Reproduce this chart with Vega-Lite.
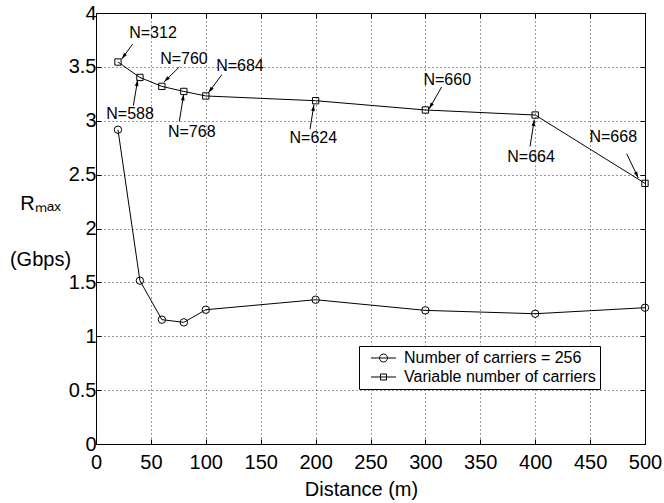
{
  "$schema": "https://vega.github.io/schema/vega-lite/v6.json",
  "width": 549,
  "height": 431,
  "autosize": {"type": "none"},
  "padding": {"left": 96, "top": 13, "right": 19, "bottom": 59},
  "config": {
    "view": {"stroke": "black", "strokeWidth": 1},
    "font": "Liberation Sans",
    "axis": {"labelColor": "black", "titleColor": "black", "labelFont": "Liberation Sans", "titleFont": "Liberation Sans", "titleFontWeight": "normal"}
  },
  "datasets": {
    "series": [
      {"series": "Number of carriers = 256", "distance": 20, "rmax": 2.917},
      {"series": "Number of carriers = 256", "distance": 40, "rmax": 1.516},
      {"series": "Number of carriers = 256", "distance": 60, "rmax": 1.154},
      {"series": "Number of carriers = 256", "distance": 80, "rmax": 1.129},
      {"series": "Number of carriers = 256", "distance": 100, "rmax": 1.246},
      {"series": "Number of carriers = 256", "distance": 200, "rmax": 1.339},
      {"series": "Number of carriers = 256", "distance": 300, "rmax": 1.240},
      {"series": "Number of carriers = 256", "distance": 400, "rmax": 1.209},
      {"series": "Number of carriers = 256", "distance": 500, "rmax": 1.265},
      {"series": "Variable number of carriers", "distance": 20, "rmax": 3.545},
      {"series": "Variable number of carriers", "distance": 40, "rmax": 3.402},
      {"series": "Variable number of carriers", "distance": 60, "rmax": 3.319},
      {"series": "Variable number of carriers", "distance": 80, "rmax": 3.272},
      {"series": "Variable number of carriers", "distance": 100, "rmax": 3.230},
      {"series": "Variable number of carriers", "distance": 200, "rmax": 3.186},
      {"series": "Variable number of carriers", "distance": 300, "rmax": 3.100},
      {"series": "Variable number of carriers", "distance": 400, "rmax": 3.053},
      {"series": "Variable number of carriers", "distance": 500, "rmax": 2.419}
    ],
    "notes": [
      {"label": "N=312", "lx": 51.9, "ly": 3.817, "tx": 33.4, "ty": 3.712, "hx": 23.4, "hy": 3.573},
      {"label": "N=588", "lx": 31.0, "ly": 3.065, "tx": 34.0, "ty": 3.140, "hx": 38.0, "hy": 3.381},
      {"label": "N=760", "lx": 80.1, "ly": 3.576, "tx": 75.9, "ty": 3.499, "hx": 61.9, "hy": 3.360},
      {"label": "N=768", "lx": 87.2, "ly": 2.896, "tx": 75.9, "ty": 2.994, "hx": 79.9, "hy": 3.248},
      {"label": "N=684", "lx": 131.1, "ly": 3.511, "tx": 114.5, "ty": 3.427, "hx": 102.3, "hy": 3.258},
      {"label": "N=624", "lx": 197.9, "ly": 2.840, "tx": 194.9, "ty": 2.923, "hx": 198.5, "hy": 3.149},
      {"label": "N=660", "lx": 319.9, "ly": 3.381, "tx": 314.8, "ty": 3.313, "hx": 303.3, "hy": 3.109},
      {"label": "N=664", "lx": 396.2, "ly": 2.664, "tx": 395.3, "ty": 2.762, "hx": 399.2, "hy": 3.010},
      {"label": "N=668", "lx": 471.1, "ly": 2.849, "tx": 483.3, "ty": 2.694, "hx": 493.9, "hy": 2.469}
    ]
  },
  "layer": [
    {
      "data": {"name": "series"},
      "mark": {"type": "line", "color": "black", "strokeWidth": 1},
      "encoding": {
        "x": {
          "field": "distance", "type": "quantitative",
          "scale": {"domain": [0, 500], "nice": false},
          "axis": {
            "title": "Distance (m)", "values": [0, 50, 100, 150, 200, 250, 300, 350, 400, 450, 500],
            "labelFontSize": 20, "titleFontSize": 20, "labelPadding": 13, "tickSize": -5, "tickColor": "black",
            "domain": false, "grid": true, "gridColor": "black", "gridDash": [1, 3], "gridOpacity": 0.8,
            "titleX": 265, "titleY": 51, "titleBaseline": "alphabetic", "labelFlush": false
          }
        },
        "y": {
          "field": "rmax", "type": "quantitative",
          "scale": {"domain": [0, 4], "nice": false},
          "axis": {
            "title": ["Rₘₐₓ", "(Gbps)"], "values": [0, 0.5, 1, 1.5, 2, 2.5, 3, 3.5, 4], "format": "~g",
            "labelFontSize": 20, "titleFontSize": 20, "labelPadding": 5, "tickSize": -5, "tickColor": "black",
            "domain": false, "grid": true, "gridColor": "black", "gridDash": [1, 3], "gridOpacity": 0.8,
            "titleAngle": 0, "titleAlign": "center", "titleBaseline": "alphabetic", "titleX": -56, "titleY": 196,
            "titleLineHeight": 56, "labelFlush": false
          }
        },
        "detail": {"field": "series"}
      }
    },
    {
      "data": {"name": "series"},
      "mark": {"type": "point", "filled": false, "color": "black", "strokeWidth": 1, "opacity": 1},
      "encoding": {
        "x": {"field": "distance", "type": "quantitative", "axis": null},
        "y": {"field": "rmax", "type": "quantitative", "axis": null},
        "shape": {"field": "series", "type": "nominal", "legend": null,
          "scale": {"domain": ["Number of carriers = 256", "Variable number of carriers"], "range": ["circle", "square"]}},
        "size": {"field": "series", "type": "nominal", "legend": null,
          "scale": {"domain": ["Number of carriers = 256", "Variable number of carriers"], "range": [55, 40]}}
      }
    },
    {
      "data": {"name": "series"},
      "mark": {"type": "point", "filled": false, "color": "black", "strokeWidth": 1, "opacity": 0, "size": 100},
      "encoding": {
        "x": {"field": "distance", "type": "quantitative", "axis": null},
        "y": {"field": "rmax", "type": "quantitative", "axis": null},
        "shape": {"field": "series", "type": "nominal",
          "scale": {"domain": ["Number of carriers = 256", "Variable number of carriers"],
            "range": ["M0,0L5,0M3.3,0A0.8,0.8,0,1,1,1.7,0A0.8,0.8,0,1,1,3.3,0", "M0,0L5,0M1.9,-0.6L3.1,-0.6L3.1,0.6L1.9,0.6Z"]},
          "legend": {
            "title": null, "orient": "none", "legendX": 263, "legendY": 333,
            "strokeColor": "black", "fillColor": "white", "padding": 4,
            "symbolOpacity": 1, "symbolStrokeColor": "black", "symbolFillColor": "transparent", "symbolStrokeWidth": 1,
            "symbolSize": 100, "labelFontSize": 16, "labelFont": "Liberation Sans", "labelColor": "black",
            "labelOffset": 25, "rowPadding": 3, "labelLimit": 400
          }
        }
      }
    },
    {
      "data": {"name": "notes"},
      "mark": {"type": "rule", "color": "black", "strokeWidth": 1},
      "encoding": {
        "x": {"field": "tx", "type": "quantitative", "axis": null},
        "y": {"field": "ty", "type": "quantitative", "axis": null},
        "x2": {"field": "hx"},
        "y2": {"field": "hy"}
      }
    },
    {
      "data": {"name": "notes"},
      "transform": [{"calculate": "atan2((datum.hx - datum.tx) * 1.098, (datum.hy - datum.ty) * 107.75) * 180 / PI", "as": "ang"}],
      "mark": {"type": "point", "shape": "M0,0L-0.45,1.6L0.45,1.6Z", "filled": true, "color": "black", "opacity": 1, "size": 64, "strokeWidth": 0},
      "encoding": {
        "x": {"field": "hx", "type": "quantitative", "axis": null},
        "y": {"field": "hy", "type": "quantitative", "axis": null},
        "angle": {"field": "ang", "type": "quantitative", "scale": null}
      }
    },
    {
      "data": {"name": "notes"},
      "mark": {"type": "text", "fontSize": 16, "font": "Liberation Sans", "color": "black", "align": "center", "baseline": "middle"},
      "encoding": {
        "x": {"field": "lx", "type": "quantitative", "axis": null},
        "y": {"field": "ly", "type": "quantitative", "axis": null},
        "text": {"field": "label"}
      }
    },
    {
      "data": {"name": "series"},
      "mark": {"type": "point", "opacity": 0},
      "encoding": {
        "x": {"field": "distance", "type": "quantitative",
          "axis": {"orient": "top", "values": [0, 50, 100, 150, 200, 250, 300, 350, 400, 450, 500], "labels": false, "title": null, "domain": false, "grid": false, "tickSize": -5, "tickColor": "black"}},
        "y": {"field": "rmax", "type": "quantitative",
          "axis": {"orient": "right", "values": [0, 0.5, 1, 1.5, 2, 2.5, 3, 3.5, 4], "labels": false, "title": null, "domain": false, "grid": false, "tickSize": -5, "tickColor": "black"}}
      }
    }
  ],
  "resolve": {"scale": {"shape": "independent", "size": "independent"}, "axis": {"x": "independent", "y": "independent"}}
}
